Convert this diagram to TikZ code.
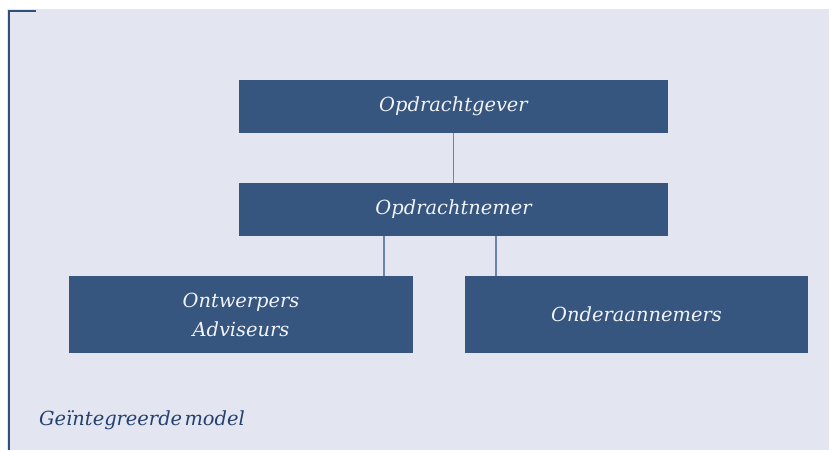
\documentclass[tikz,border=0pt]{standalone}
\usepackage{fontspec}
\setmainfont{DejaVu Serif}
\definecolor{panel}{HTML}{E3E6F0}
\definecolor{boxfill}{HTML}{36557F}
\definecolor{rule}{HTML}{2F4F7F}
\definecolor{link}{HTML}{6A86AE}
\definecolor{caption}{HTML}{24406E}
\begin{document}
\begin{tikzpicture}[x=1bp,y=-1bp,
  orgbox/.style={fill=boxfill,draw=none,inner sep=0pt,align=center,
    text=white!93!boxfill,font=\itshape\fontsize{19.5}{29}\selectfont},
  linkline/.style={draw=link,line width=1.4bp}]
\useasboundingbox (0,0) rectangle (829,450);
% page and panel
\fill[white] (0,0) rectangle (829,450);
\fill[panel] (7,9) rectangle (829,450);
\draw[rule,line width=2bp] (36,11) -- (9,11) -- (9,450);
% boxes
\node[orgbox,minimum width=429bp,minimum height=53bp] (gever) at (453.5,106.5) {Opdrachtgever};
\node[orgbox,minimum width=429bp,minimum height=53bp] (nemer) at (453.5,209.5) {Opdrachtnemer};
\node[orgbox,minimum width=344bp,minimum height=77bp] (ontw) at (241,314.5) {Ontwerpers\\Adviseurs};
\node[orgbox,minimum width=343bp,minimum height=77bp] (onder) at (636.5,314.5) {Onderaannemers};
% connectors
\draw[linkline] (gever.south) -- (nemer.north);
\coordinate (nl) at (384,236);
\coordinate (nr) at (496,236);
\draw[linkline] (nl) -- (nl |- ontw.north);
\draw[linkline] (nr) -- (nr |- onder.north);
% caption
\node[anchor=base west,inner sep=0pt,text=caption,font=\itshape\fontsize{19.5}{24}\selectfont] (cap) at (39,425) {Geïntegreerde\hspace{0.12em}model};
\end{tikzpicture}
\end{document}
